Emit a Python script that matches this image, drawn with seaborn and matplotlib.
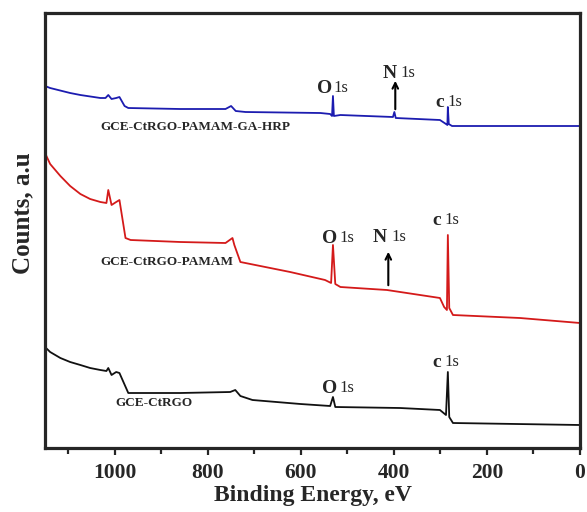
import matplotlib
matplotlib.use("Agg")
import matplotlib.pyplot as plt
import seaborn as sns
import pandas as pd
from matplotlib.ticker import MultipleLocator

# binding energy (eV) / counts (a.u.)
hrp_energy = [1150, 1139, 1096, 1074, 1031, 1020, 1014, 1007, 997, 990, 979, 971, 859, 762, 750, 740, 719,
              558, 537, 533, 531, 529, 515, 402, 399, 396, 301, 288, 285, 284, 282, 275, 0]
hrp_counts = [362, 360, 355, 353, 350, 350, 353, 349, 350, 351, 342, 340, 339, 339, 342, 337, 336,
              335, 334, 332, 352, 332, 333, 331, 336, 330, 328, 324, 323, 341, 324, 322, 322]

pamam_energy = [1150, 1139, 1117, 1096, 1074, 1053, 1031, 1018, 1014, 1007, 997, 990, 977, 966, 859, 762,
                747, 743, 730, 623, 548, 535, 531, 526, 515, 415, 301, 292, 286, 284, 281, 273, 129, 0]
pamam_counts = [295, 284, 272, 262, 254, 249, 246, 245, 258, 243, 246, 248, 210, 208, 206, 205,
                210, 203, 186, 176, 168, 165, 203, 164, 161, 158, 150, 141, 138, 213, 140, 133, 130, 125]

ctrgo_energy = [1150, 1139, 1117, 1096, 1074, 1053, 1031, 1018, 1014, 1007, 997, 990, 971, 859, 752, 741,
                730, 704, 601, 537, 531, 526, 387, 301, 288, 284, 281, 273, 0]
ctrgo_counts = [101, 96, 90, 86, 83, 80, 78, 77, 80, 73, 76, 75, 55, 55, 56, 58,
                52, 48, 44, 42, 51, 41, 40, 38, 33, 76, 31, 25, 23]

curve_names = ["GCE-CtRGO-PAMAM-GA-HRP", "GCE-CtRGO-PAMAM", "GCE-CtRGO"]
curve_colors = ["#1c1cb0", "#d41a1a", "#111111"]

sns.set_style("ticks")
plt.rcParams["font.family"] = ["Liberation Serif", "DejaVu Serif"]
plt.rcParams["font.weight"] = "bold"

fig = plt.figure(figsize=(5.87, 5.12), dpi=100)
ax = fig.add_axes([0.0767, 0.125, 0.9113, 0.8496])

frames = [
    pd.DataFrame({"E": hrp_energy, "I": hrp_counts}),
    pd.DataFrame({"E": pamam_energy, "I": pamam_counts}),
    pd.DataFrame({"E": ctrgo_energy, "I": ctrgo_counts}),
]
for df, col in zip(frames, curve_colors):
    sns.lineplot(data=df, x="E", y="I", ax=ax, color=col, lw=1.3,
                 sort=False, estimator=None)

ax.set_xlim(1150, 0)
ax.set_ylim(0, 435)
ax.xaxis.set_major_locator(MultipleLocator(200))
ax.xaxis.set_minor_locator(MultipleLocator(100))
ax.tick_params(axis="x", which="both", direction="out", width=1.6, labelsize=15.5, pad=6)
ax.tick_params(axis="x", which="major", length=5)
ax.tick_params(axis="x", which="minor", length=4)
ax.set_yticks([])
for lab in ax.get_xticklabels():
    lab.set_fontweight("bold")
for s in ax.spines.values():
    s.set_linewidth(2.3)
    s.set_visible(True)

ax.set_xlabel("Binding Energy, eV", fontsize=17, fontweight="bold", labelpad=1)
ax.set_ylabel("Counts, a.u", fontsize=18, fontweight="bold")
ax.yaxis.set_label_coords(-0.02, 0.54)

# curve labels
ax.text(1031, 321, curve_names[0], fontsize=9.5, fontweight="bold", va="center", ha="left")
ax.text(1031, 186, curve_names[1], fontsize=9.5, fontweight="bold", va="center", ha="left")
ax.text(999, 45, curve_names[2], fontsize=9.5, fontweight="bold", va="center", ha="left")


def peak_label(x, y, letter, gap):
    ax.text(x, y, letter, fontsize=14, fontweight="bold", va="center", ha="left")
    ax.text(x - gap, y, "1s", fontsize=12, fontweight="normal", va="center", ha="left")


# blue
peak_label(565, 360, "O", 36)
peak_label(425, 375, "N", 39)
peak_label(311, 346, "c", 26)
ax.annotate("", xy=(397, 370), xytext=(397, 336),
            arrowprops=dict(arrowstyle="->", color="black", lw=1.5))
# red
peak_label(554, 210, "O", 36)
peak_label(445, 211, "N", 39)
peak_label(318, 228, "c", 26)
ax.annotate("", xy=(412, 199), xytext=(412, 160),
            arrowprops=dict(arrowstyle="->", color="black", lw=1.5))
# black
peak_label(554, 60, "O", 36)
peak_label(318, 86, "c", 26)

fig.savefig("out.png", dpi=100)
